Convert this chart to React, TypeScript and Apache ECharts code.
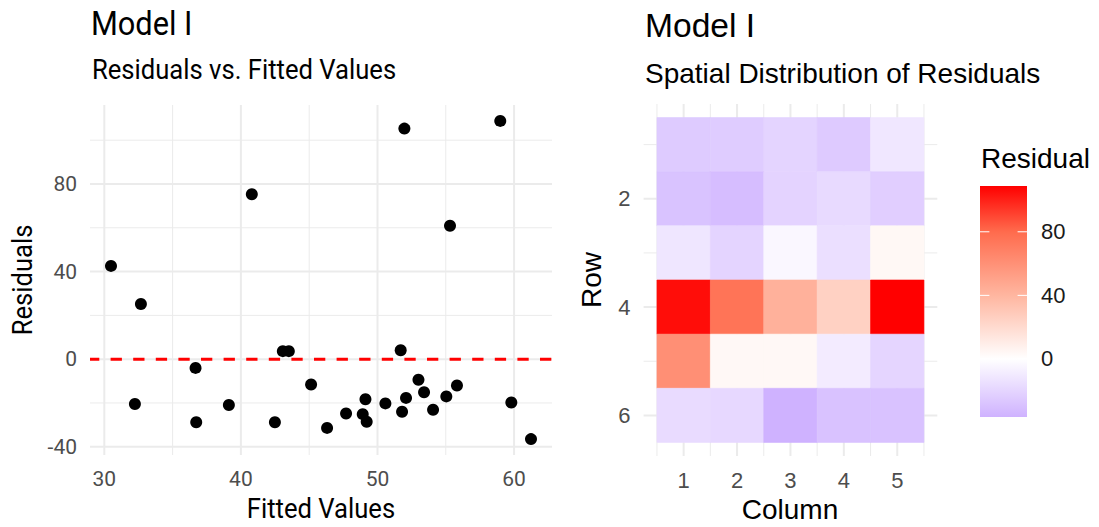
import React, { useEffect, useRef } from "react";
import * as echarts from "echarts";

// ---- Data ----
const fittedValues = [
  30.49, 32.68, 32.24, 36.68, 36.73, 39.12, 40.8, 42.49, 43.07, 43.51, 45.14, 46.31, 47.7, 48.92, 49.12,
  49.21, 50.58, 51.7, 51.97, 51.8, 52.09, 53.0, 53.41, 54.07, 55.04, 55.31, 55.82, 58.99, 59.8, 61.24,
];
const residuals = [
  42.6, 25.2, -20.5, -4.0, -28.8, -20.9, 75.3, -28.8, 3.65, 3.65, -11.6, -31.4, -24.8, -25.1, -18.3,
  -28.6, -20.2, 4.1, 105.3, -24.0, -17.7, -9.4, -15.1, -23.1, -17.0, 60.9, -12.0, 108.8, -19.8, -36.5,
];

const gridColumns = [1, 2, 3, 4, 5];
const gridRows = [1, 2, 3, 4, 5, 6];
const gridResiduals = [
  [-24.8, -24.0, -20.5, -25.1, -11.6],
  [-28.6, -31.4, -20.9, -17.7, -23.1],
  [-12.0, -20.2, -4.0, -15.1, 4.1],
  [105.3, 75.3, 42.6, 25.2, 108.8],
  [60.9, 3.65, 3.65, -9.4, -19.8],
  [-17.0, -18.3, -36.5, -28.8, -28.8],
];

const scatterXTicks = [30, 40, 50, 60];
const scatterXMinor = [35, 45, 55];
const scatterYTicks = [-40, 0, 40, 80];
const scatterYMinor = [-20, 20, 60, 100];
const heatXTicks = [1, 2, 3, 4, 5];
const heatXMinor = [0.5, 1.5, 2.5, 3.5, 4.5, 5.5];
const heatYTicks = [2, 4, 6];
const heatYMinor = [1, 3, 5];
const legendTicks = [0, 40, 80];

const rMin = Math.min(...residuals);
const rMax = Math.max(...residuals);

// colour scale (value -> colour)
const colorScale: [number, string][] = [
  [rMin, "#CFB2FF"],
  [0, "#FFFFFF"],
  [40, "#FFB6A0"],
  [80, "#FF6B4D"],
  [rMax, "#FF0000"],
];

function hexToRgb(h: string) {
  const n = parseInt(h.slice(1), 16);
  return [(n >> 16) & 255, (n >> 8) & 255, n & 255];
}
function colorFor(v: number) {
  if (v <= colorScale[0][0]) return colorScale[0][1];
  for (let i = 0; i < colorScale.length - 1; i++) {
    const [a, ca] = colorScale[i];
    const [b, cb] = colorScale[i + 1];
    if (v <= b) {
      const t = (v - a) / (b - a);
      const A = hexToRgb(ca);
      const B = hexToRgb(cb);
      const c = A.map((x, k) => Math.round(x + (B[k] - x) * t));
      return `rgb(${c[0]},${c[1]},${c[2]})`;
    }
  }
  return colorScale[colorScale.length - 1][1];
}

function expand(min: number, max: number, f: number) {
  const r = max - min;
  return [min - r * f, max + r * f];
}

const LEFT_FONT = "Roboto";
const RIGHT_FONT = "'Liberation Sans', Arial, sans-serif";
const COND = 0.915;

function gridLineSeries(gridIdx: number, xMaj: number[], xMin: number[], yMaj: number[], yMin: number[]) {
  const data: number[][] = [];
  xMaj.forEach((v) => data.push([v, 0, 1]));
  xMin.forEach((v) => data.push([v, 0, 0]));
  yMaj.forEach((v) => data.push([v, 1, 1]));
  yMin.forEach((v) => data.push([v, 1, 0]));
  return {
    type: "custom",
    xAxisIndex: gridIdx,
    yAxisIndex: gridIdx,
    z: 0,
    silent: true,
    clip: false,
    encode: { x: -1, y: -1 },
    data,
    renderItem: (params: any, api: any) => {
      const cs = params.coordSys;
      const pos = api.value(0);
      const horiz = api.value(1) === 1;
      const major = api.value(2) === 1;
      const style = { stroke: "#EBEBEB", lineWidth: major ? 2 : 1 };
      if (horiz) {
        const p = api.coord([gridIdx === 0 ? 40 : 1, pos]);
        return { type: "line", shape: { x1: cs.x, y1: p[1], x2: cs.x + cs.width, y2: p[1] }, style };
      }
      const p = api.coord([pos, gridIdx === 0 ? 0 : 1]);
      return { type: "line", shape: { x1: p[0], y1: cs.y, x2: p[0], y2: cs.y + cs.height }, style };
    },
  };
}

export default function App() {
  const ref = useRef<HTMLDivElement>(null);
  useEffect(() => {
    if (!ref.current) return;
    const chart = echarts.init(ref.current, undefined, { renderer: "svg" });

    const [sxMin, sxMax] = expand(Math.min(...fittedValues), Math.max(...fittedValues), 0.05);
    const [syMin, syMax] = expand(rMin, rMax, 0.05);

    const heatData: number[][] = [];
    gridRows.forEach((r, ri) => gridColumns.forEach((c, ci) => heatData.push([c, r, gridResiduals[ri][ci]])));

    const legendStops = colorScale
      .map(([v, c]) => ({ offset: (rMax - v) / (rMax - rMin), color: c }))
      .sort((a, b) => a.offset - b.offset);

    const option: any = {
      animation: false,
      backgroundColor: "#FFFFFF",
      grid: [
        { left: 90, top: 105, width: 462, height: 350 },
        { left: 643.6, top: 104, width: 293.7, height: 352 },
        { left: 980, top: 186, width: 47, height: 231 },
      ],
      xAxis: [
        {
          type: "value",
          gridIndex: 0,
          min: sxMin,
          max: sxMax,
          axisLine: { show: false },
          axisTick: { show: false },
          splitLine: { show: false },
          axisLabel: { customValues: scatterXTicks, margin: 13, fontSize: 21, color: "#4D4D4D", fontFamily: LEFT_FONT },
        },
        {
          type: "value",
          gridIndex: 1,
          min: 0.25,
          max: 5.75,
          axisLine: { show: false },
          axisTick: { show: false },
          splitLine: { show: false },
          axisLabel: { customValues: heatXTicks, margin: 13, fontSize: 22, color: "#4D4D4D", fontFamily: RIGHT_FONT },
        },
        { type: "value", gridIndex: 2, min: 0, max: 1, show: false },
      ],
      yAxis: [
        {
          type: "value",
          gridIndex: 0,
          min: syMin,
          max: syMax,
          axisLine: { show: false },
          axisTick: { show: false },
          splitLine: { show: false },
          axisLabel: { customValues: scatterYTicks, margin: 13, fontSize: 21, color: "#4D4D4D", fontFamily: LEFT_FONT },
        },
        {
          type: "value",
          gridIndex: 1,
          inverse: true,
          min: 0.25,
          max: 6.75,
          axisLine: { show: false },
          axisTick: { show: false },
          splitLine: { show: false },
          axisLabel: { customValues: heatYTicks, margin: 13, fontSize: 22, color: "#4D4D4D", fontFamily: RIGHT_FONT },
        },
        {
          type: "value",
          gridIndex: 2,
          position: "right",
          min: rMin,
          max: rMax,
          axisLine: { show: false },
          axisTick: { show: false },
          splitLine: { show: false },
          axisLabel: { customValues: legendTicks, margin: 14, fontSize: 22, color: "#1A1A1A", fontFamily: RIGHT_FONT },
        },
      ],
      series: [
        gridLineSeries(0, scatterXTicks, scatterXMinor, scatterYTicks, scatterYMinor),
        gridLineSeries(1, heatXTicks, heatXMinor, heatYTicks, heatYMinor),
        {
          type: "custom",
          xAxisIndex: 0,
          yAxisIndex: 0,
          z: 2,
          silent: true,
          data: [[0, 0]],
          renderItem: (params: any, api: any) => {
            const cs = params.coordSys;
            const p = api.coord([api.value(0) + 40, api.value(1)]);
            return {
              type: "line",
              shape: { x1: cs.x, y1: p[1], x2: cs.x + cs.width, y2: p[1] },
              style: { stroke: "#FF0000", lineWidth: 3, lineDash: [11.3, 11.3], lineDashOffset: 2 },
            };
          },
        },
        {
          type: "scatter",
          xAxisIndex: 0,
          yAxisIndex: 0,
          z: 3,
          symbolSize: 12,
          itemStyle: { color: "#000000", opacity: 1 },
          data: fittedValues.map((x, i) => [x, residuals[i]]),
        },
        {
          type: "custom",
          xAxisIndex: 1,
          yAxisIndex: 1,
          z: 1,
          silent: true,
          data: heatData,
          renderItem: (params: any, api: any) => {
            const c = api.value(0);
            const r = api.value(1);
            const v = api.value(2);
            const p1 = api.coord([c - 0.5, r - 0.5]);
            const p2 = api.coord([c + 0.5, r + 0.5]);
            const col = colorFor(v);
            return {
              type: "rect",
              shape: {
                x: Math.min(p1[0], p2[0]),
                y: Math.min(p1[1], p2[1]),
                width: Math.abs(p2[0] - p1[0]),
                height: Math.abs(p2[1] - p1[1]),
              },
              style: { fill: col, stroke: col, lineWidth: 0.6 },
            };
          },
        },
        {
          type: "custom",
          xAxisIndex: 2,
          yAxisIndex: 2,
          z: 1,
          silent: true,
          data: [[0, rMin]],
          renderItem: (params: any, api: any) => {
            const top = api.coord([0, rMax]);
            const bot = api.coord([1, rMin]);
            const w = bot[0] - top[0];
            const children: any[] = [
              {
                type: "rect",
                shape: { x: top[0], y: top[1], width: w, height: bot[1] - top[1] },
                style: {
                  fill: new echarts.graphic.LinearGradient(0, 0, 0, 1, legendStops),
                },
              },
            ];
            legendTicks.forEach((t) => {
              const y = api.coord([0, t])[1];
              children.push({
                type: "line",
                shape: { x1: top[0], y1: y, x2: top[0] + w / 5, y2: y },
                style: { stroke: "#FFFFFF", lineWidth: 1 },
              });
              children.push({
                type: "line",
                shape: { x1: bot[0] - w / 5, y1: y, x2: bot[0], y2: y },
                style: { stroke: "#FFFFFF", lineWidth: 1 },
              });
            });
            return { type: "group", children };
          },
        },
      ],
      graphic: [
        {
          type: "text",
          x: 91,
          y: 24,
          scaleX: COND,
          style: { text: "Model I", font: `400 33.6px ${LEFT_FONT}`, fill: "#000", textAlign: "left", textVerticalAlign: "middle" },
        },
        {
          type: "text",
          x: 92,
          y: 70,
          scaleX: COND,
          style: {
            text: "Residuals vs. Fitted Values",
            font: `400 28px ${LEFT_FONT}`,
            fill: "#000",
            textAlign: "left",
            textVerticalAlign: "middle",
          },
        },
        {
          type: "text",
          x: 321,
          y: 509,
          scaleX: COND,
          style: { text: "Fitted Values", font: `400 28px ${LEFT_FONT}`, fill: "#000", textAlign: "center", textVerticalAlign: "middle" },
        },
        {
          type: "text",
          x: 22.5,
          y: 280,
          rotation: Math.PI / 2,
          scaleX: COND,
          style: { text: "Residuals", font: `400 28px ${LEFT_FONT}`, fill: "#000", textAlign: "center", textVerticalAlign: "middle" },
        },
        {
          type: "text",
          x: 645,
          y: 25,
          style: { text: "Model I", font: `400 33.6px ${RIGHT_FONT}`, fill: "#000", textAlign: "left", textVerticalAlign: "middle" },
        },
        {
          type: "text",
          x: 645,
          y: 73,
          style: {
            text: "Spatial Distribution of Residuals",
            font: `400 28px ${RIGHT_FONT}`,
            fill: "#000",
            textAlign: "left",
            textVerticalAlign: "middle",
          },
        },
        {
          type: "text",
          x: 790,
          y: 509,
          style: { text: "Column", font: `400 28px ${RIGHT_FONT}`, fill: "#000", textAlign: "center", textVerticalAlign: "middle" },
        },
        {
          type: "text",
          x: 591,
          y: 280,
          rotation: Math.PI / 2,
          style: { text: "Row", font: `400 28px ${RIGHT_FONT}`, fill: "#000", textAlign: "center", textVerticalAlign: "middle" },
        },
        {
          type: "text",
          x: 981,
          y: 158,
          style: { text: "Residual", font: `400 28px ${RIGHT_FONT}`, fill: "#000", textAlign: "left", textVerticalAlign: "middle" },
        },
      ],
    };

    chart.setOption(option);
    return () => chart.dispose();
  }, []);

  return <div ref={ref} style={{ position: "fixed", left: 0, top: 0, width: 1099, height: 527 }} />;
}
